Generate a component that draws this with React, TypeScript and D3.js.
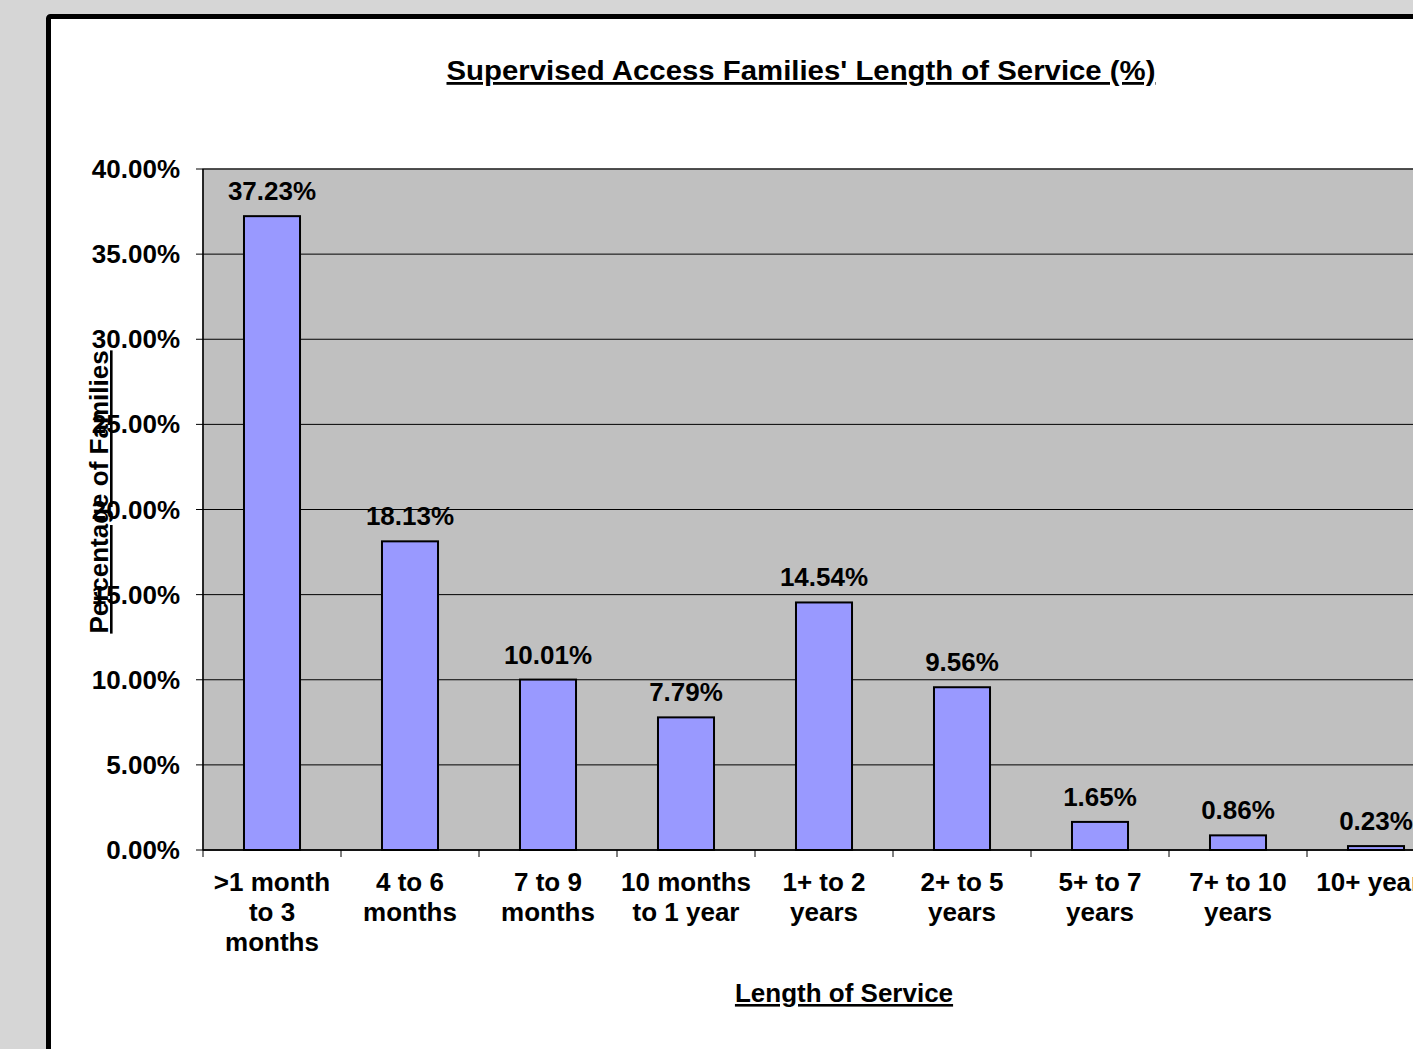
import React, { useEffect } from 'react';
import * as d3 from 'd3';

const categories = [
  '>1 month\nto 3\nmonths',
  '4 to 6\nmonths',
  '7 to 9\nmonths',
  '10 months\nto 1 year',
  '1+ to 2\nyears',
  '2+ to 5\nyears',
  '5+ to 7\nyears',
  '7+ to 10\nyears',
  '10+ years',
];
const values = [37.23, 18.13, 10.01, 7.79, 14.54, 9.56, 1.65, 0.86, 0.23];
const yTicks = [0, 5, 10, 15, 20, 25, 30, 35, 40];

const W = 1413;
const H = 1049;
const font = "'Liberation Sans', Arial, sans-serif";

const App: React.FC = () => {
  useEffect(() => {
    document.body.style.margin = '0';
  }, []);

  const plotLeft = 203;
  const plotRight = 203 + 9 * 138;
  const plotTop = 169;
  const plotBottom = 850;

  const x = d3.scaleBand<string>()
    .domain(categories)
    .range([plotLeft, plotRight])
    .paddingInner(0.594)
    .paddingOuter(0.297);
  const y = d3.scaleLinear().domain([0, 40]).range([plotBottom, plotTop]);
  const step = x.step();
  const fmt = (v: number) => d3.format('.2f')(v) + '%';
  const underline = { textDecoration: 'underline', textDecorationThickness: '3px' } as React.CSSProperties;

  return (
    <svg width={W} height={H} style={{ position: 'absolute', left: 0, top: 0, display: 'block' }} fontFamily={font}>
      <rect x={0} y={0} width={W} height={H} fill="#d6d6d6" />
      {/* chart panel */}
      <rect x={48.5} y={16.5} width={W + 20} height={H + 20} fill="#fff" stroke="#000" strokeWidth={5} rx={2} />

      {/* plot area */}
      <rect x={plotLeft} y={plotTop} width={plotRight - plotLeft} height={plotBottom - plotTop} fill="#c0c0c0" stroke="#808080" strokeWidth={1.5} />
      {yTicks.map(t => (
        <g key={t}>
          <line x1={plotLeft - 7} x2={plotRight} y1={y(t)} y2={y(t)} stroke="#000" strokeWidth={1} />
          <text x={180} y={y(t)} dy="0.35em" textAnchor="end" fontSize={26} fontWeight="bold">{fmt(t)}</text>
        </g>
      ))}
      <line x1={plotLeft} x2={plotLeft} y1={plotTop} y2={plotBottom} stroke="#000" strokeWidth={1.5} />
      <line x1={plotLeft} x2={plotRight} y1={plotBottom} y2={plotBottom} stroke="#000" strokeWidth={1.5} />
      {categories.map((c, i) => (
        <line key={'t' + i} x1={plotLeft + i * step} x2={plotLeft + i * step} y1={plotBottom} y2={plotBottom + 7} stroke="#000" strokeWidth={1} />
      ))}

      {/* bars */}
      {categories.map((c, i) => (
        <g key={'b' + i}>
          <rect
            x={x(c)!}
            y={y(values[i])}
            width={x.bandwidth()}
            height={plotBottom - y(values[i])}
            fill="#9999ff"
            stroke="#000"
            strokeWidth={2}
          />
          <text x={x(c)! + x.bandwidth() / 2} y={y(values[i]) - 16} textAnchor="middle" fontSize={26} fontWeight="bold">
            {fmt(values[i])}
          </text>
        </g>
      ))}

      {/* category labels */}
      {categories.map((c, i) => (
        <text key={'c' + i} x={x(c)! + x.bandwidth() / 2} y={891} textAnchor="middle" fontSize={26} fontWeight="bold">
          {c.split('\n').map((line, j) => (
            <tspan key={j} x={x(c)! + x.bandwidth() / 2} y={891 + j * 30}>{line}</tspan>
          ))}
        </text>
      ))}

      {/* titles */}
      <text x={801} y={80} textAnchor="middle" fontSize={28} fontWeight="bold" textLength={709} lengthAdjust="spacingAndGlyphs" style={underline}>
        Supervised Access Families' Length of Service (%)
      </text>
      <text x={844} y={1002} textAnchor="middle" fontSize={26} fontWeight="bold" style={underline}>
        Length of Service
      </text>
      <text transform="translate(108,492) rotate(-90)" textAnchor="middle" fontSize={26} fontWeight="bold" style={underline}>
        Percentage of Families
      </text>
    </svg>
  );
};

export default App;
